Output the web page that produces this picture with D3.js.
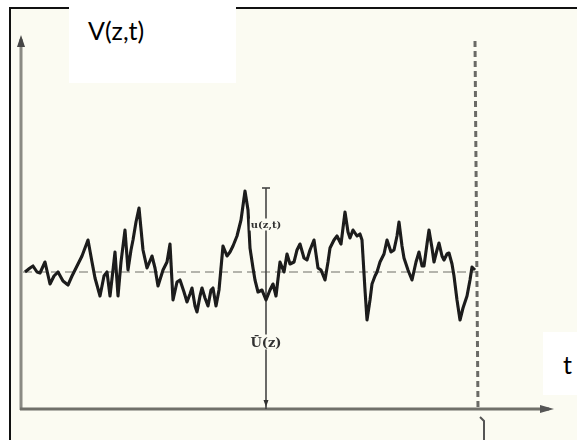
<!DOCTYPE html>
<html>
<head>
<meta charset="utf-8">
<script src="https://cdn.jsdelivr.net/npm/d3@7"></script>
<style>
  body { margin: 0; background: #fff; }
</style>
</head>
<body>
<div id="chart"></div>
<script>
// time (arbitrary units from the V axis) and velocity (height above the t axis)
var tVals = [4, 9, 12, 16, 19, 24, 29, 33, 37, 42, 47, 51, 56, 61, 67, 71, 74, 79, 83, 86,
  89, 92, 94, 97, 100, 104, 107, 110, 112, 115, 118, 122, 126, 131, 134, 137, 142, 146, 149, 152,
  156, 159, 163, 166, 169, 171, 174, 176, 179, 181, 184, 187, 190, 192, 195, 198, 202, 206, 209, 212,
  216, 220, 224, 227, 229, 232, 234, 237, 241, 245, 249, 252, 255, 259, 263, 266, 269, 273, 276, 279,
  283, 286, 289, 293, 297, 300, 304, 307, 309, 313, 316, 320, 324, 327, 329, 332, 336, 339, 341, 344,
  346, 349, 351, 354, 356, 359, 363, 366, 370, 373, 376, 378, 381, 383, 387, 391, 395, 398, 401, 403,
  406, 408, 411, 413, 416, 418, 421, 423, 426, 428, 431, 433, 436, 439, 442, 446, 449, 451, 454];
var uVals = [137, 141, 143, 137, 136, 147, 125, 133, 137, 128, 124, 133, 143, 153, 169, 147, 131, 113, 133, 137,
  113, 139, 157, 113, 147, 179, 139, 159, 169, 187, 201, 159, 141, 153, 141, 123, 139, 147, 165, 109,
  127, 129, 117, 107, 115, 121, 103, 97, 113, 121, 111, 103, 119, 121, 103, 119, 163, 153, 157, 163,
  173, 189, 218, 199, 161, 141, 129, 117, 119, 109, 119, 125, 113, 147, 137, 155, 145, 147, 159, 165,
  151, 149, 159, 169, 141, 139, 129, 147, 161, 169, 173, 165, 197, 177, 171, 179, 173, 175, 169, 119,
  89, 109, 125, 133, 137, 147, 155, 169, 157, 159, 173, 187, 163, 151, 139, 129, 147, 157, 143, 143,
  165, 179, 161, 147, 159, 166, 153, 149, 155, 156, 145, 133, 109, 89, 101, 113, 129, 142, 139];

var uMean = 137;     // U(z)
var tEnd = 455;      // T
var tMark = 245;     // where u(z,t) is marked
var uMarkTop = 221;

var W = 577, H = 440;
var svg = d3.select('#chart').append('svg').attr('width', W).attr('height', H);

var x = d3.scaleLinear().domain([0, 533]).range([21, 554]);
var y = d3.scaleLinear().domain([0, 374]).range([409, 35]);

var defs = svg.append('defs');
defs.append('filter').attr('id', 'soft')
    .append('feGaussianBlur').attr('stdDeviation', 0.7);

// scanned paper
svg.append('rect').attr('width', W).attr('height', H).attr('fill', '#fff');
svg.append('rect').attr('x', 10).attr('y', 8).attr('width', W - 10).attr('height', H - 8)
    .attr('fill', '#fbfbf2');
svg.append('path').attr('d', 'M10,' + H + 'V8H' + W)
    .attr('fill', 'none').attr('stroke', '#111').attr('stroke-width', 2);

var g = svg.append('g').attr('filter', 'url(#soft)');

// axes
g.append('line')
    .attr('x1', x(0)).attr('x2', x(0)).attr('y1', y(0) + 1).attr('y2', y(370))
    .attr('stroke', '#8a8a84').attr('stroke-width', 3);
g.append('path')
    .attr('d', 'M' + x(0) + ',' + y(374) + 'l-4,12h8z')
    .attr('fill', '#444');
g.append('line')
    .attr('x1', x(0) - 1).attr('x2', x(528)).attr('y1', y(0)).attr('y2', y(0))
    .attr('stroke', '#6f6f6a').attr('stroke-width', 3);
g.append('path')
    .attr('d', 'M' + x(533) + ',' + y(0) + 'l-14,-4v8z')
    .attr('fill', '#555');

// mean line
g.append('line')
    .attr('x1', x(2)).attr('x2', x(tEnd)).attr('y1', y(uMean)).attr('y2', y(uMean))
    .attr('stroke', '#b4b4ac').attr('stroke-width', 2)
    .attr('stroke-dasharray', '9,5');

// record end T
g.append('line')
    .attr('x1', x(tEnd) - 1).attr('x2', x(tEnd) + 2).attr('y1', y(368)).attr('y2', y(0))
    .attr('stroke', '#6a6a66').attr('stroke-width', 3)
    .attr('stroke-dasharray', '6,4');
g.append('path')
    .attr('d', 'M' + (x(tEnd) + 4) + ',' + (y(0) + 8) + 'l4,4V' + H)
    .attr('fill', 'none').attr('stroke', '#555').attr('stroke-width', 2);

// u(z,t) and U(z) marker
var xm = x(tMark);
g.append('line')
    .attr('x1', xm).attr('x2', xm).attr('y1', y(0)).attr('y2', y(uMarkTop))
    .attr('stroke', '#444').attr('stroke-width', 1.6);
g.append('line')
    .attr('x1', xm - 4).attr('x2', xm + 4).attr('y1', y(uMarkTop)).attr('y2', y(uMarkTop))
    .attr('stroke', '#444').attr('stroke-width', 1.6);
g.append('path')
    .attr('d', 'M' + xm + ',' + (y(0) - 2) + 'l-2.5,-7h5z').attr('fill', '#333');

// signal
var line = d3.line()
    .x(function(d, i) { return x(tVals[i]); })
    .y(function(d) { return y(d); });
g.append('path')
    .datum(uVals)
    .attr('d', line)
    .attr('fill', 'none')
    .attr('stroke', '#1a1a1a')
    .attr('stroke-width', 3.1)
    .attr('stroke-linejoin', 'round');

// small labels on the marker
var labels = [
    { text: 'u(z,t)', u: 184, size: 10 },
    { text: 'Ū(z)', u: 66, size: 13 }
];
labels.forEach(function(l) {
    var tx = g.append('text')
        .attr('x', xm).attr('y', y(l.u))
        .attr('text-anchor', 'middle')
        .attr('dominant-baseline', 'middle')
        .attr('font-family', 'DejaVu Serif, serif')
        .attr('font-weight', 'bold')
        .attr('font-size', l.size)
        .attr('fill', '#333')
        .text(l.text);
    var b = tx.node().getBBox();
    g.insert('rect', function() { return tx.node(); })
        .attr('x', b.x - 1).attr('y', b.y).attr('width', b.width + 2).attr('height', b.height)
        .attr('fill', '#fbfbf2');
});

// pasted white label boxes
svg.append('rect').attr('x', 69).attr('y', 0).attr('width', 167).attr('height', 83).attr('fill', '#fff');
svg.append('text').attr('x', 88).attr('y', 40)
    .attr('font-family', 'Lato, sans-serif').attr('font-size', 25).attr('fill', '#000')
    .text('V(z,t)');
svg.append('rect').attr('x', 543).attr('y', 332).attr('width', 34).attr('height', 63).attr('fill', '#fff');
svg.append('text').attr('x', 563).attr('y', 374)
    .attr('font-family', 'Lato, sans-serif').attr('font-size', 25).attr('fill', '#000')
    .text('t');
</script>
</body>
</html>
